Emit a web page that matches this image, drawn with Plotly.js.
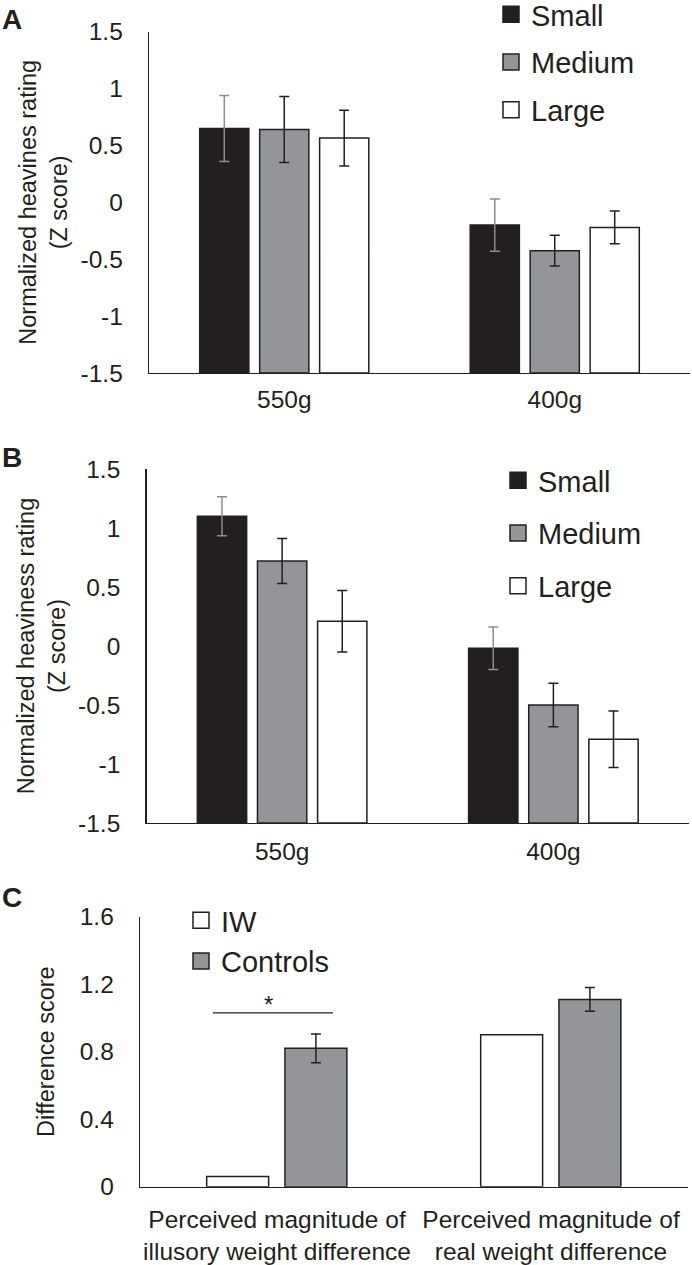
<!DOCTYPE html>
<html>
<head>
<meta charset="utf-8">
<script src="https://cdn.plot.ly/plotly-3.0.1.min.js"></script>
<style>html,body{margin:0;padding:0;background:#fff;}#chart{width:692px;height:1265px;}</style>
</head>
<body>
<div id="chart"></div>
<script>
// ---- data ----
const weightGroups = ['550g', '400g'];
const sizeNames = ['Small', 'Medium', 'Large'];

const aSmall = [0.65, -0.20];
const aMedium = [0.64, -0.425];
const aLarge = [0.565, -0.22];
const aSmallErr = [0.29, 0.23];
const aMediumErr = [0.29, 0.135];
const aLargeErr = [0.245, 0.145];

const bSmall = [1.10, -0.02];
const bMedium = [0.72, -0.50];
const bLarge = [0.21, -0.79];
const bSmallErr = [0.165, 0.18];
const bMediumErr = [0.19, 0.184];
const bLargeErr = [0.26, 0.24];

const cCategories = ['Perceived magnitude of<br>illusory weight difference', 'Perceived magnitude of<br>real weight difference'];
const groupNames = ['IW', 'Controls'];
const cIW = [0.06, 0.90];
const cControls = [0.82, 1.11];
const cControlsErr = [0.085, 0.07];

const yTicksAB = [-1.5, -1, -0.5, 0, 0.5, 1, 1.5];
const yTicksC = [0, 0.4, 0.8, 1.2, 1.6];

// ---- styling ----
const W = 692, H = 1265;
const INK = '#231f20';
const DARK = '#231f20';
const GRAY = '#939598';
const ERRGRAY = '#8d8d8d';
const FONT = 'Liberation Sans, Arial, Helvetica, sans-serif';
const fills = [DARK, GRAY, '#ffffff'];
const AXMIN = -1.5;

function px(x) { return x / W; }
function py(y) { return 1 - y / H; }

const traces = [];
function legendItem(name, fill, xa, ya, legendName) {
  traces.push({
    type: 'scatter', mode: 'markers', name: name, x: [null], y: [null],
    xaxis: xa, yaxis: ya, legend: legendName, legendgroup: legendName + name,
    marker: { symbol: 'square', size: 17, color: fill, line: { color: INK, width: 1.5 } },
    hoverinfo: 'skip'
  });
}
function addGroupSet(vals, errs, xa, ya, legendName) {
  vals.forEach((v, i) => {
    traces.push({
      type: 'bar',
      name: sizeNames[i],
      x: weightGroups,
      y: v.map(d => d - AXMIN),
      base: AXMIN,
      xaxis: xa, yaxis: ya,
      showlegend: false,
      marker: { color: fills[i], line: { color: INK, width: 1.5 } },
      error_y: { type: 'data', array: errs[i], visible: true, color: i === 0 ? ERRGRAY : INK, thickness: 1.5, width: 5 },
      hoverinfo: 'skip'
    });
  });
  sizeNames.forEach((n, i) => legendItem(n, fills[i], xa, ya, legendName));
}
addGroupSet([aSmall, aMedium, aLarge], [aSmallErr, aMediumErr, aLargeErr], 'x', 'y', 'legend');
addGroupSet([bSmall, bMedium, bLarge], [bSmallErr, bMediumErr, bLargeErr], 'x2', 'y2', 'legend2');

traces.push({
  type: 'bar', name: groupNames[0], x: cCategories, y: cIW,
  xaxis: 'x3', yaxis: 'y3', showlegend: false,
  width: 0.226, offset: -0.2566,
  marker: { color: '#ffffff', line: { color: INK, width: 1.5 } },
  hoverinfo: 'skip'
});
traces.push({
  type: 'bar', name: groupNames[1], x: cCategories, y: cControls,
  xaxis: 'x3', yaxis: 'y3', showlegend: false,
  width: 0.226, offset: 0.029,
  marker: { color: GRAY, line: { color: INK, width: 1.5 } },
  error_y: { type: 'data', array: cControlsErr, visible: true, color: INK, thickness: 1.5, width: 5 },
  hoverinfo: 'skip'
});
legendItem(groupNames[0], '#ffffff', 'x3', 'y3', 'legend3');
legendItem(groupNames[1], GRAY, 'x3', 'y3', 'legend3');

const tickFont = { family: FONT, size: 24.5, color: INK };
const xTickFont = { family: FONT, size: 24.5, color: INK };
const titleFont = { family: FONT, size: 23.5, color: INK };
const legFont = { family: FONT, size: 29, color: INK };

function xAxis(d0, d1, anchor, standoff) {
  return {
    domain: [px(d0), px(d1)], anchor: anchor,
    showline: true, linecolor: INK, linewidth: 1.3,
    ticks: '', showgrid: false, zeroline: false,
    tickfont: xTickFont, ticklabelstandoff: standoff, fixedrange: true
  };
}
function yAxis(top, bottom, anchor, range, ticks, title, standoff) {
  return {
    domain: [py(bottom), py(top)], anchor: anchor, range: range,
    tickvals: ticks, ticktext: ticks.map(String),
    showline: true, linecolor: INK, linewidth: 1.3,
    ticks: '', showgrid: false, zeroline: false,
    tickfont: tickFont, ticklabelstandoff: 20,
    title: { text: title, font: titleFont, standoff: standoff },
    fixedrange: true
  };
}

const layout = {
  width: W, height: H,
  margin: { l: 0, r: 0, t: 0, b: 0, autoexpand: false },
  paper_bgcolor: '#fff', plot_bgcolor: '#fff',
  font: { family: FONT, color: INK },
  barmode: 'group', bargap: 0.335, bargroupgap: 0.18,
  showlegend: true,
  xaxis: xAxis(149, 690, 'y', 4),
  yaxis: yAxis(31.7, 373, 'x', [-1.5, 1.5], yTicksAB, 'Normalized heavines rating<br>(Z score)', 6),
  xaxis2: xAxis(146.5, 689, 'y2', 6),
  yaxis2: yAxis(469, 823, 'x2', [-1.5, 1.5], yTicksAB, 'Normalized heaviness rating<br>(Z score)', 6),
  xaxis3: xAxis(140, 688, 'y3', 11),
  yaxis3: yAxis(916.7, 1186.7, 'x3', [0, 1.6], yTicksC, 'Difference score', 18),
  legend: { x: px(491), y: py(-11), xanchor: 'left', yanchor: 'top', font: legFont, tracegroupgap: 7, itemwidth: 30, bgcolor: 'rgba(0,0,0,0)' },
  legend2: { x: px(498), y: py(455), xanchor: 'left', yanchor: 'top', font: legFont, tracegroupgap: 12, itemwidth: 30, bgcolor: 'rgba(0,0,0,0)' },
  legend3: { x: px(181), y: py(895), xanchor: 'left', yanchor: 'top', font: legFont, tracegroupgap: 0, itemwidth: 30, bgcolor: 'rgba(0,0,0,0)' },
  shapes: [
    { type: 'line', xref: 'x3', yref: 'y3', x0: -0.234, x1: 0.204, y0: 1.03, y1: 1.03, line: { color: INK, width: 1.3 } }
  ],
  annotations: [
    { text: '<b>A</b>', xref: 'paper', yref: 'paper', x: px(12), y: py(19), xanchor: 'center', yanchor: 'middle', showarrow: false, font: { family: FONT, size: 28, color: INK } },
    { text: '<b>B</b>', xref: 'paper', yref: 'paper', x: px(12), y: py(457), xanchor: 'center', yanchor: 'middle', showarrow: false, font: { family: FONT, size: 28, color: INK } },
    { text: '<b>C</b>', xref: 'paper', yref: 'paper', x: px(12), y: py(897), xanchor: 'center', yanchor: 'middle', showarrow: false, font: { family: FONT, size: 28, color: INK } },
    { text: '*', xref: 'x3', yref: 'y3', x: -0.03, y: 1.03, yanchor: 'bottom', yshift: -7, showarrow: false, font: { family: FONT, size: 24, color: INK } }
  ]
};

Plotly.newPlot('chart', traces, layout, { displayModeBar: false, staticPlot: true });
</script>
</body>
</html>
